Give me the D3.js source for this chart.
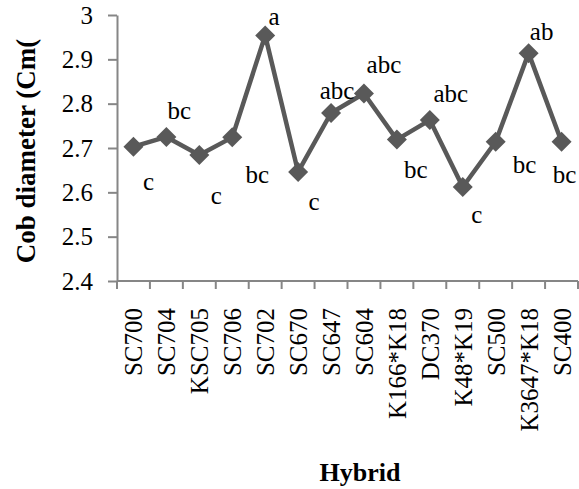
<!DOCTYPE html>
<html>
<head>
<meta charset="utf-8">
<script src="https://cdn.jsdelivr.net/npm/d3@7"></script>
<style>
  body { margin: 0; background: #fff; }
  text { font-family: "Liberation Serif", "Times New Roman", serif; }
</style>
</head>
<body>
<div id="chart"></div>
<script>
const hybrids = ["SC700", "SC704", "KSC705", "SC706", "SC702", "SC670", "SC647",
  "SC604", "K166*K18", "DC370", "K48*K19", "SC500", "K3647*K18", "SC400"];
const cobDiameter = [2.703, 2.725, 2.684, 2.724, 2.954, 2.646, 2.779,
  2.823, 2.719, 2.763, 2.612, 2.714, 2.914, 2.714];
const groups = ["c", "bc", "c", "bc", "a", "c", "abc", "abc", "bc", "abc", "c", "bc", "ab", "bc"];
const yTicks = [2.4, 2.5, 2.6, 2.7, 2.8, 2.9, 3];

// where each letter sits relative to its marker (baseline)
const letterOffset = [[15, 43], [13, -18], [17, 49], [25, 46], [9, -10], [16, 38], [6, -14],
  [20, -20], [19, 38], [21, -18], [14, 36], [29, 31], [13, -13], [3, 41]];

const W = 579, H = 489;
const margin = {top: 15, right: 1, bottom: 208, left: 117};
const grey = "#868686";
const lineCol = "#595959";

const svg = d3.select("#chart").append("svg")
  .attr("width", W)
  .attr("height", H);

const x = d3.scaleBand()
  .domain(hybrids)
  .range([margin.left, W - margin.right])
  .padding(0);

const y = d3.scaleLinear()
  .domain([2.4, 3])
  .range([H - margin.bottom, margin.top]);

// y axis
const yAxis = svg.append("g")
  .attr("transform", `translate(${margin.left},0)`)
  .call(d3.axisLeft(y).tickValues(yTicks).tickFormat(d3.format("")).tickSize(9).tickSizeOuter(0));
yAxis.select(".domain").attr("stroke", grey).attr("stroke-width", 2);
yAxis.selectAll(".tick line").attr("stroke", grey).attr("stroke-width", 2);
yAxis.selectAll(".tick text")
  .attr("x", -24)
  .attr("fill", "#000")
  .style("font-size", "25px")
  .style("font-family", "Liberation Serif");

// x axis (ticks between categories, like the spreadsheet)
const xAxis = svg.append("g");
xAxis.append("line")
  .attr("x1", x.range()[0]).attr("x2", x.range()[1])
  .attr("y1", y(2.4)).attr("y2", y(2.4))
  .attr("stroke", grey).attr("stroke-width", 2);
xAxis.selectAll("line.tk")
  .data(d3.range(hybrids.length + 1))
  .join("line")
  .attr("class", "tk")
  .attr("x1", i => x.range()[0] + i * x.step())
  .attr("x2", i => x.range()[0] + i * x.step())
  .attr("y1", y(2.4))
  .attr("y2", y(2.4) + 8)
  .attr("stroke", grey).attr("stroke-width", 2);

xAxis.selectAll("text.cat")
  .data(hybrids)
  .join("text")
  .attr("class", "cat")
  .attr("transform", d => `translate(${x(d) + x.bandwidth() / 2 + 9},${y(2.4) + 27}) rotate(-90)`)
  .attr("text-anchor", "end")
  .style("font-size", "25px")
  .text(d => d);

// line + diamond markers
const pts = hybrids.map((h, i) => [x(h) + x.bandwidth() / 2, y(cobDiameter[i])]);

svg.append("path")
  .datum(pts)
  .attr("fill", "none")
  .attr("stroke", lineCol)
  .attr("stroke-width", 4.5)
  .attr("stroke-linejoin", "round")
  .attr("d", d3.line());

svg.selectAll("path.mk")
  .data(pts)
  .join("path")
  .attr("class", "mk")
  .attr("transform", d => `translate(${d[0]},${d[1]})`)
  .attr("d", "M0,-10 L10,0 L0,10 L-10,0 Z")
  .attr("fill", lineCol);

// significance letters
svg.selectAll("text.grp")
  .data(groups)
  .join("text")
  .attr("class", "grp")
  .attr("x", (d, i) => pts[i][0] + letterOffset[i][0])
  .attr("y", (d, i) => pts[i][1] + letterOffset[i][1])
  .attr("text-anchor", "middle")
  .style("font-size", "25px")
  .text(d => d);

// axis titles
svg.append("text")
  .attr("transform", "translate(35,151) rotate(-90)")
  .attr("text-anchor", "middle")
  .style("font-size", "27px")
  .style("font-weight", "bold")
  .text("Cob diameter (Cm(");

svg.append("text")
  .attr("x", 360)
  .attr("y", 481)
  .attr("text-anchor", "middle")
  .style("font-size", "26px")
  .style("font-weight", "bold")
  .text("Hybrid");
</script>
</body>
</html>
